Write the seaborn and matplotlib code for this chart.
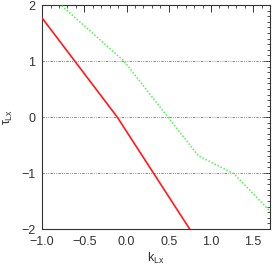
import numpy as np
import pandas as pd
import matplotlib
matplotlib.use("Agg")
import matplotlib.pyplot as plt
import seaborn as sns
from matplotlib.ticker import MultipleLocator

# Data
k_red = [-1.0, -0.11, 0.80]
tau_red = [1.77, 0.0, -2.12]
k_green = [-1.0, -0.03, 0.85, 1.27, 1.75]
tau_green = [2.30, 1.0, -0.69, -1.01, -1.76]
grid_levels = [-1, 0, 1]

sns.set_theme(style="white")
plt.rcParams['font.family'] = ['Liberation Sans', 'DejaVu Sans']
plt.rcParams['mathtext.fontset'] = 'custom'
plt.rcParams['mathtext.rm'] = 'Liberation Sans'
plt.rcParams['mathtext.it'] = 'Liberation Sans'

fig = plt.figure(figsize=(2.75, 2.67), dpi=100)
ax = fig.add_axes([0.153, 0.142, 0.829, 0.839])

df_r = pd.DataFrame({"k": k_red, "tau": tau_red})
df_g = pd.DataFrame({"k": k_green, "tau": tau_green})

for yv in grid_levels:
    ax.axhline(yv, color="#777777", lw=0.6, ls=(0, (3, 1.5, 1, 1.5, 1, 1.5)), zorder=1)

sns.lineplot(data=df_r, x="k", y="tau", ax=ax, color="#ff1a1a", lw=1.2, sort=False, zorder=3)
sns.lineplot(data=df_g, x="k", y="tau", ax=ax, color="#55ee55", lw=1.1, ls=(0, (1, 1.2)), sort=False, zorder=3)

ax.set_xlim(-1.0, 1.7)
ax.set_ylim(-2, 2)
ax.xaxis.set_major_locator(MultipleLocator(0.5))
ax.xaxis.set_minor_locator(MultipleLocator(0.1))
ax.yaxis.set_major_locator(MultipleLocator(1))
ax.yaxis.set_minor_locator(MultipleLocator(0.1))
ax.tick_params(which="both", direction="in", top=True, right=True, color="#333333",
               labelcolor="#333333", labelsize=9)
ax.tick_params(which="major", length=5, width=0.7, pad=5)
ax.tick_params(which="minor", length=2.5, width=0.6)
for s in ax.spines.values():
    s.set_color("#333333")
    s.set_linewidth(0.8)

ax.set_xlabel(r"k$_{\mathrm{Lx}}$", fontsize=9, color="#333333", labelpad=2)
ax.set_ylabel(r"$\tau_{\mathrm{Lx}}$", fontsize=9, color="#333333", labelpad=4)

fig.savefig("out.png", dpi=100)
